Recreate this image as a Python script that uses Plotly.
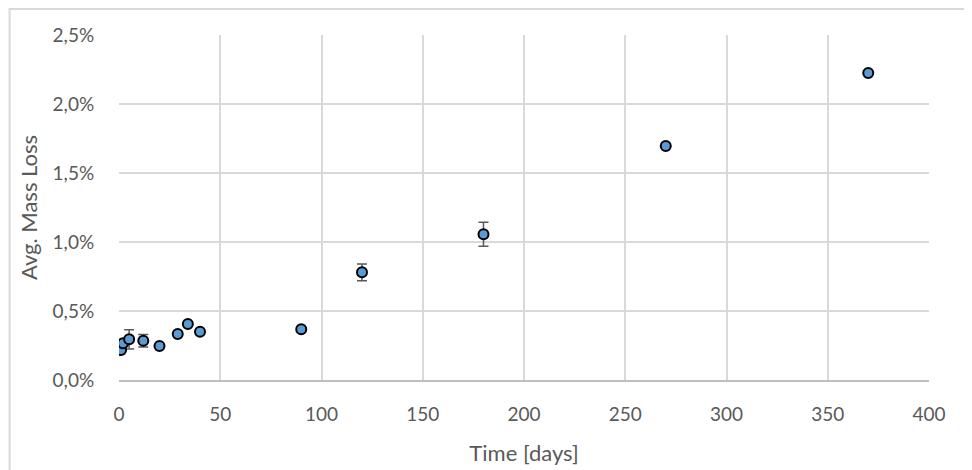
import plotly.graph_objects as go

days = [1, 2, 5, 12, 20, 29, 34, 40, 90, 120, 180, 270, 370]
mass_loss = [0.00217, 0.00266, 0.00295, 0.00285, 0.00246, 0.00333, 0.00406, 0.00350,
             0.00367, 0.00780, 0.01056, 0.01696, 0.02225]
err = [0.0, 0.0, 0.0007, 0.00045, 0.0, 0.0, 0.0, 0.0, 0.0, 0.0006, 0.00087, 0.0, 0.0]

x_ticks = [0, 50, 100, 150, 200, 250, 300, 350, 400]
y_ticks = [0, 0.005, 0.010, 0.015, 0.020, 0.025]

FONT = "Lato, 'Open Sans', sans-serif"
TXT = "#595959"
GRID = "#D9D9D9"

OFF = 8  # default page body margin
W, H = 972 - OFF, 470 - OFF
L, R, T, B = 118.5 - OFF, 43, 35 - OFF, 90
pw, ph = W - L - R, H - T - B

fig = go.Figure()
fig.add_trace(go.Scatter(
    x=days, y=mass_loss, mode="markers",
    marker=dict(size=10, color="#5B9BD5", line=dict(color="#000000", width=2)),
    error_y=dict(type="data", array=err, visible=True, color="#595959",
                 thickness=1.5, width=5),
    showlegend=False,
))

fig.update_layout(
    width=W, height=H,
    margin=dict(l=L, r=R, t=T, b=B, autoexpand=False),
    paper_bgcolor="white", plot_bgcolor="white",
    separators=", ",
    font=dict(family=FONT, size=19, color=TXT),
    xaxis=dict(
        range=[0, 400], tickvals=x_ticks, showgrid=True, gridcolor=GRID, gridwidth=2,
        zeroline=False, showline=True, linecolor="#BFBFBF", linewidth=2, mirror=False,
        ticks="outside", ticklen=16, tickcolor="rgba(0,0,0,0)", automargin=False,
        title=dict(text="Time [days]", standoff=22, font=dict(size=22, color=TXT)),
        tickfont=dict(size=19, color=TXT),
    ),
    yaxis=dict(
        range=[0, 0.025], tickvals=y_ticks, tickformat=".1%", showgrid=True,
        gridcolor=GRID, gridwidth=2, zeroline=False, showline=False,
        ticks="outside", ticklen=20, tickcolor="rgba(0,0,0,0)", automargin=False,
        title=dict(text="Avg. Mass Loss", standoff=8, font=dict(size=22, color=TXT)),
        tickfont=dict(size=19, color=TXT),
    ),
)

# outer chart-area border
fig.add_shape(type="rect", xref="paper", yref="paper",
              x0=(9 - OFF - L) / pw, x1=(990 - L) / pw,
              y0=1 - (490 - T) / ph, y1=1 + (T - 1) / ph,
              line=dict(color="#D9D9D9", width=2), layer="below")

fig.write_html("out.html")
